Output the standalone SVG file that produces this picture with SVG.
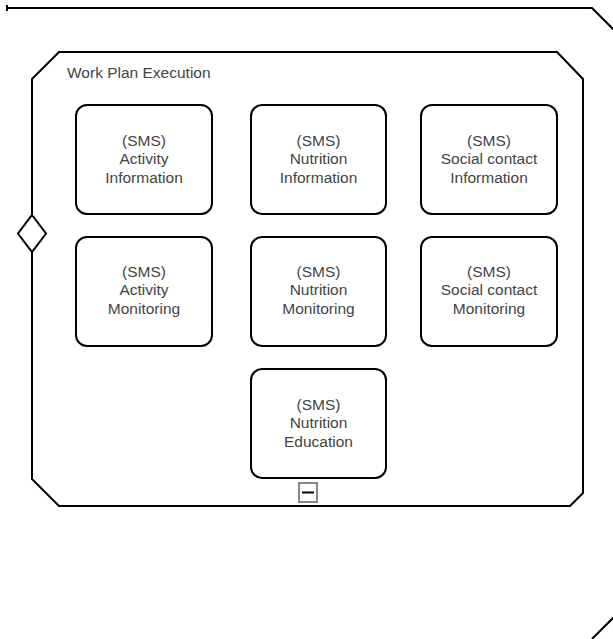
<svg xmlns="http://www.w3.org/2000/svg" width="613" height="639" viewBox="0 0 613 639">
  <style>
    .outline { fill: none; stroke: #000; stroke-width: 2; stroke-linejoin: miter; }
    .sub { fill: #fff; stroke: #000; stroke-width: 2; }
    .task rect { fill: #fff; stroke: #000; stroke-width: 2; }
    .label { font-family: "Liberation Sans", Arial, sans-serif; font-size: 15.5px; fill: #444; text-anchor: middle; }
    .title { font-family: "Liberation Sans", Arial, sans-serif; font-size: 15.5px; fill: #444; }
  </style>
  <rect width="613" height="639" fill="#fff"/>

  <!-- outer container, only partly in view -->
  <g id="outer">
    <path class="outline" d="M7,5 V11 M7,8 H592 L630,46"/>
    <path class="outline" d="M630,601 L592,639"/>
  </g>

  <!-- expanded sub-process -->
  <g id="work-plan-execution">
    <polygon class="sub" points="59,52 557,52 583,79 583,493 570,506 59,506 32,479 32,79"/>
    <text class="title" x="67" y="78">Work Plan Execution</text>
    <!-- collapse marker -->
    <rect x="299" y="483" width="18" height="19" fill="#fff" stroke="#888" stroke-width="2"/>
    <line x1="302" y1="492.5" x2="314" y2="492.5" stroke="#000" stroke-width="2"/>
  </g>

  <!-- boundary event -->
  <g id="boundary-event">
    <polygon points="32,215 46,233.5 32,252 18,233.5" fill="#fff" stroke="#000" stroke-width="2"/>
  </g>

  <g id="activity-information" class="task">
    <rect x="76" y="105" width="136" height="109" rx="11"/>
    <text class="label" x="144" y="146">(SMS)</text>
    <text class="label" x="144" y="164">Activity</text>
    <text class="label" x="144" y="183">Information</text>
  </g>
  <g id="nutrition-information" class="task">
    <rect x="251" y="105" width="135" height="109" rx="11"/>
    <text class="label" x="318.5" y="146">(SMS)</text>
    <text class="label" x="318.5" y="164">Nutrition</text>
    <text class="label" x="318.5" y="183">Information</text>
  </g>
  <g id="social-contact-information" class="task">
    <rect x="421" y="105" width="136" height="109" rx="11"/>
    <text class="label" x="489" y="146">(SMS)</text>
    <text class="label" x="489" y="164">Social contact</text>
    <text class="label" x="489" y="183">Information</text>
  </g>

  <g id="activity-monitoring" class="task">
    <rect x="76" y="237" width="136" height="109" rx="11"/>
    <text class="label" x="144" y="277">(SMS)</text>
    <text class="label" x="144" y="295">Activity</text>
    <text class="label" x="144" y="314">Monitoring</text>
  </g>
  <g id="nutrition-monitoring" class="task">
    <rect x="251" y="237" width="135" height="109" rx="11"/>
    <text class="label" x="318.5" y="277">(SMS)</text>
    <text class="label" x="318.5" y="295">Nutrition</text>
    <text class="label" x="318.5" y="314">Monitoring</text>
  </g>
  <g id="social-contact-monitoring" class="task">
    <rect x="421" y="237" width="136" height="109" rx="11"/>
    <text class="label" x="489" y="277">(SMS)</text>
    <text class="label" x="489" y="295">Social contact</text>
    <text class="label" x="489" y="314">Monitoring</text>
  </g>

  <g id="nutrition-education" class="task">
    <rect x="251" y="369" width="135" height="109" rx="11"/>
    <text class="label" x="318.5" y="410">(SMS)</text>
    <text class="label" x="318.5" y="428">Nutrition</text>
    <text class="label" x="318.5" y="447">Education</text>
  </g>

  <g id="connectors"/>
</svg>
